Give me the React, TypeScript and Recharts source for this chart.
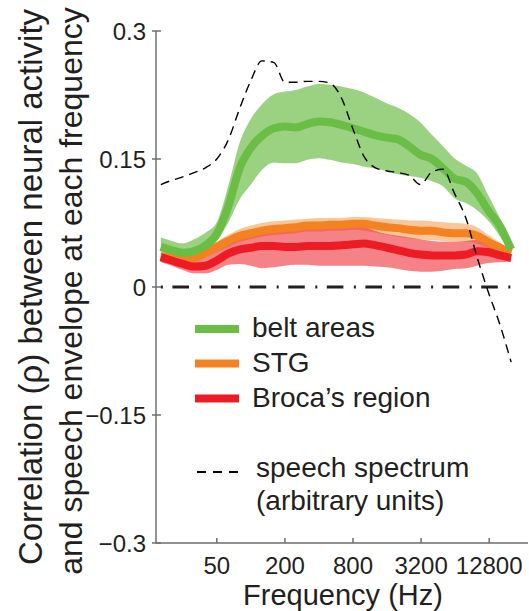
import { ComposedChart, Area, Line, XAxis, YAxis, ReferenceLine, Legend, Label } from "recharts"

const freqs = [16, 20, 25, 31.5, 40, 50, 63, 80, 100, 125, 160, 200, 250, 315, 400, 500, 630, 800, 1000, 1250, 1600, 2000, 2500, 3150, 4000, 5000, 6300, 8000, 10000, 12500, 16000, 20000]

const beltMean = [0.047, 0.043, 0.040, 0.042, 0.049, 0.062, 0.094, 0.140, 0.163, 0.177, 0.186, 0.188, 0.187, 0.191, 0.194, 0.193, 0.190, 0.186, 0.182, 0.178, 0.175, 0.173, 0.165, 0.155, 0.150, 0.139, 0.127, 0.123, 0.110, 0.090, 0.071, 0.044]
const beltHigh = [0.058, 0.054, 0.051, 0.056, 0.064, 0.076, 0.118, 0.170, 0.197, 0.214, 0.226, 0.229, 0.231, 0.235, 0.238, 0.237, 0.235, 0.232, 0.228, 0.222, 0.215, 0.210, 0.203, 0.193, 0.178, 0.165, 0.151, 0.142, 0.133, 0.108, 0.080, 0.052]
const beltLow = [0.042, 0.037, 0.034, 0.036, 0.043, 0.054, 0.075, 0.103, 0.120, 0.137, 0.146, 0.145, 0.145, 0.149, 0.151, 0.149, 0.146, 0.144, 0.141, 0.139, 0.136, 0.132, 0.130, 0.128, 0.124, 0.118, 0.104, 0.098, 0.090, 0.078, 0.059, 0.038]

const stgMean = [0.036, 0.034, 0.033, 0.034, 0.040, 0.047, 0.054, 0.060, 0.063, 0.066, 0.068, 0.069, 0.070, 0.072, 0.072, 0.073, 0.073, 0.074, 0.074, 0.072, 0.070, 0.069, 0.067, 0.066, 0.066, 0.064, 0.063, 0.063, 0.060, 0.053, 0.046, 0.040]
const stgHigh = [0.040, 0.038, 0.037, 0.039, 0.045, 0.053, 0.061, 0.068, 0.072, 0.075, 0.077, 0.078, 0.079, 0.080, 0.081, 0.081, 0.081, 0.082, 0.082, 0.081, 0.080, 0.079, 0.078, 0.078, 0.077, 0.076, 0.075, 0.074, 0.070, 0.061, 0.052, 0.043]
const stgLow = [0.032, 0.030, 0.029, 0.030, 0.035, 0.041, 0.047, 0.053, 0.056, 0.059, 0.061, 0.062, 0.063, 0.065, 0.065, 0.066, 0.066, 0.067, 0.066, 0.064, 0.061, 0.059, 0.057, 0.056, 0.055, 0.054, 0.053, 0.053, 0.051, 0.046, 0.040, 0.037]

const brocaMean = [0.035, 0.031, 0.027, 0.024, 0.025, 0.031, 0.039, 0.044, 0.046, 0.048, 0.048, 0.047, 0.047, 0.048, 0.048, 0.048, 0.049, 0.050, 0.051, 0.049, 0.046, 0.043, 0.040, 0.038, 0.037, 0.037, 0.037, 0.038, 0.042, 0.041, 0.037, 0.034]
const brocaHigh = [0.041, 0.037, 0.034, 0.032, 0.035, 0.043, 0.052, 0.060, 0.066, 0.068, 0.068, 0.069, 0.069, 0.070, 0.070, 0.070, 0.071, 0.072, 0.071, 0.066, 0.062, 0.060, 0.058, 0.056, 0.054, 0.053, 0.053, 0.054, 0.055, 0.051, 0.044, 0.038]
const brocaLow = [0.029, 0.025, 0.020, 0.016, 0.016, 0.020, 0.026, 0.027, 0.025, 0.022, 0.023, 0.025, 0.026, 0.026, 0.025, 0.025, 0.025, 0.025, 0.025, 0.024, 0.023, 0.021, 0.019, 0.018, 0.018, 0.019, 0.021, 0.022, 0.025, 0.028, 0.029, 0.030]

const spectrum = [0.120, 0.125, 0.129, 0.134, 0.140, 0.150, 0.172, 0.210, 0.242, 0.265, 0.263, 0.240, 0.240, 0.241, 0.241, 0.239, 0.222, 0.185, 0.153, 0.140, 0.136, 0.134, 0.131, 0.120, 0.135, 0.138, 0.110, 0.080, 0.035, -0.005, -0.045, -0.088]

const xTicks = [50, 200, 800, 3200, 12800]
const yTicks = [-0.3, -0.15, 0, 0.15, 0.3]
const xDomain = [14.5, 28200]

const data = freqs.map((f, i) => ({
  f,
  belt: beltMean[i],
  beltBand: [beltLow[i], beltHigh[i]],
  stg: stgMean[i],
  stgBand: [stgLow[i], stgHigh[i]],
  broca: brocaMean[i],
  brocaBand: [brocaLow[i], brocaHigh[i]],
  spectrum: spectrum[i],
}))

const FONT = "'Liberation Sans', Arial, Helvetica, sans-serif"
const INK = "#231f20"
const AXIS = "#6d6e71"
const GREEN = "#6abd45"
const ORANGE = "#f58220"
const RED = "#ed1c24"

const fmtY = (v: number) => (v < 0 ? "\u2212" + Math.abs(v) : String(v))

function YTick(props: any) {
  const { x, y, payload } = props
  return (
    <g>
      <line x1={x - 4} x2={x + 5} y1={y} y2={y} stroke={AXIS} strokeWidth={1.5} />
      <text x={x - 10} y={y} dy="0.36em" textAnchor="end" fontSize={24} fontFamily={FONT} fill={INK}>
        {fmtY(payload.value)}
      </text>
    </g>
  )
}

function XTick(props: any) {
  const { x, y, payload } = props
  return (
    <g>
      <line x1={x} x2={x} y1={y} y2={y - 5} stroke={AXIS} strokeWidth={1.5} />
      <text x={x} y={y + 31} textAnchor="middle" fontSize={24} fontFamily={FONT} fill={INK}>
        {payload.value}
      </text>
    </g>
  )
}

function renderLegend() {
  const rows = [
    { label: "belt areas", color: GREEN, y: 19 },
    { label: "STG", color: ORANGE, y: 53.5 },
    { label: "Broca\u2019s region", color: RED, y: 88.5 },
  ]
  return (
    <svg width={334} height={215} style={{ display: "block" }}>
      {rows.map((r) => (
        <g key={r.label}>
          <line x1={0} x2={44} y1={r.y} y2={r.y} stroke={r.color} strokeWidth={8} />
          <text x={57} y={r.y + 8} fontSize={28} fontFamily={FONT} fill={INK}>
            {r.label}
          </text>
        </g>
      ))}
      <line x1={2} x2={44} y1={162} y2={162} stroke="#000" strokeWidth={2} strokeDasharray="9 7" />
      <text x={61} y={167} fontSize={28} fontFamily={FONT} fill={INK}>
        speech spectrum
      </text>
      <text x={61} y={200} fontSize={28} fontFamily={FONT} fill={INK}>
        (arbitrary units)
      </text>
    </svg>
  )
}

function YLabel(props: any) {
  const { viewBox } = props
  const cy = viewBox.y + viewBox.height / 2
  return (
    <g fontFamily={FONT} fill={INK} textAnchor="middle">
      <text x={42} y={cy} fontSize={33} transform={`rotate(-90 42 ${cy})`}>
        Correlation (ρ) between neural activity
      </text>
      <text x={82} y={cy + 4} fontSize={32} transform={`rotate(-90 82 ${cy + 4})`}>
        and speech envelope at each frequency
      </text>
    </g>
  )
}

function XLabel(props: any) {
  const { viewBox } = props
  return (
    <text
      x={viewBox.x + viewBox.width / 2 + 1}
      y={viewBox.y + 62.3}
      textAnchor="middle"
      fontSize={29}
      fontFamily={FONT}
      fill={INK}
    >
      Frequency (Hz)
    </text>
  )
}

export default function App() {
  return (
    <div style={{ position: "absolute", left: 0, top: 0, background: "#fff" }}>
      <ComposedChart width={529} height={611} data={data} margin={{ top: 31, right: 1, bottom: 0, left: 0 }}>
        <XAxis
          dataKey="f"
          type="number"
          scale="log"
          domain={xDomain}
          allowDataOverflow
          ticks={xTicks}
          interval={0}
          tick={<XTick />}
          tickLine={false}
          tickSize={0}
          tickMargin={0}
          height={68}
          axisLine={{ stroke: AXIS, strokeWidth: 1.5 }}
        >
          <Label content={<XLabel />} />
        </XAxis>
        <YAxis
          type="number"
          domain={[-0.3, 0.3]}
          ticks={yTicks}
          interval={0}
          tick={<YTick />}
          tickLine={false}
          tickSize={0}
          tickMargin={0}
          width={156}
          axisLine={{ stroke: AXIS, strokeWidth: 1.5 }}
        >
          <Label content={<YLabel />} />
        </YAxis>
        <ReferenceLine
          segment={[{ x: xDomain[0], y: 0 }, { x: freqs[freqs.length - 1], y: 0 }]}
          stroke={INK}
          strokeWidth={3}
          strokeDasharray="16.6 10.5 2 9.5"
          strokeDashoffset={22.2}
          ifOverflow="visible"
        />
        <Area type="monotone" dataKey="stgBand" stroke="none" fill={ORANGE} fillOpacity={0.45} isAnimationActive={false} activeDot={false} />
        <Line type="monotone" dataKey="stg" stroke={ORANGE} strokeWidth={8} dot={false} activeDot={false} isAnimationActive={false} />
        <Area type="monotone" dataKey="brocaBand" stroke="none" fill={RED} fillOpacity={0.55} isAnimationActive={false} activeDot={false} />
        <Line type="monotone" dataKey="broca" stroke={RED} strokeWidth={8} dot={false} activeDot={false} isAnimationActive={false} />
        <Area type="monotone" dataKey="beltBand" stroke="none" fill={GREEN} fillOpacity={0.68} isAnimationActive={false} activeDot={false} />
        <Line type="monotone" dataKey="belt" stroke={GREEN} strokeWidth={8} dot={false} activeDot={false} isAnimationActive={false} />
        <Line type="monotone" dataKey="spectrum" stroke="#000" strokeWidth={1.4} strokeDasharray="9 6" dot={false} activeDot={false} isAnimationActive={false} />
        <Legend
          content={renderLegend}
          layout="horizontal"
          verticalAlign="middle"
          align="center"
          wrapperStyle={{ left: 195, top: 310, width: 334, height: 215 }}
        />
      </ComposedChart>
    </div>
  )
}
